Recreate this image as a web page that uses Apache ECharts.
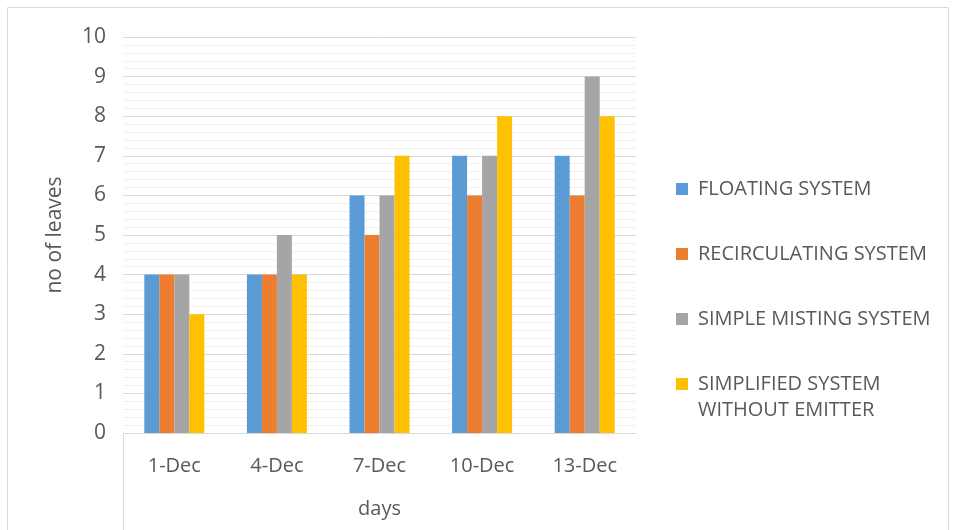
<!DOCTYPE html>
<html>
<head>
<meta charset="utf-8">
<script src="https://cdn.jsdelivr.net/npm/echarts@6/dist/echarts.min.js"></script>
<style>
  html, body { margin: 0; padding: 0; background: #fff; }
  #chart { width: 955px; height: 530px; }
</style>
</head>
<body>
<div id="chart"></div>
<script>
// Leaf counts per growing system on each observation day
const days = ['1-Dec', '4-Dec', '7-Dec', '10-Dec', '13-Dec'];
const floating = [4, 4, 6, 7, 7];
const recirculating = [4, 4, 5, 6, 6];
const simpleMisting = [4, 5, 6, 7, 9];
const simplifiedNoEmitter = [3, 4, 7, 8, 8];
const seriesNames = ['FLOATING SYSTEM', 'RECIRCULATING SYSTEM', 'SIMPLE MISTING SYSTEM', 'SIMPLIFIED SYSTEM\nWITHOUT EMITTER'];
const palette = ['#5B9BD5', '#ED7D31', '#A5A5A5', '#FFC000'];

const FONT = '"Open Sans", "Noto Sans", sans-serif';
const TEXT = '#595959';

// Legend swatch: 12px square plus an invisible speck that widens the icon box,
// giving a wider gap between swatch and label (and for the two-line entry,
// a taller box so the swatch sits beside the first line).
const swatchSingle = 'path://M0,0h12v12h-12z M16.99,11.99h0.01v0.01h-0.01z';
const swatchDouble = 'path://M0,0h12v12h-12z M16.99,37.99h0.01v0.01h-0.01z';

const chart = echarts.init(document.getElementById('chart'), null, { renderer: 'canvas' });

const seriesData = [floating, recirculating, simpleMisting, simplifiedNoEmitter];

chart.setOption({
  animation: false,
  backgroundColor: '#fff',
  textStyle: { fontFamily: FONT, color: TEXT },
  grid: { left: 123, right: 319, top: 37, bottom: 97, containLabel: false },
  legend: [
    {
      orient: 'vertical',
      left: 671, top: 171,
      itemWidth: 17, itemHeight: 12, itemGap: 39,
      icon: swatchSingle,
      data: seriesNames.slice(0, 3),
      textStyle: { fontFamily: FONT, fontSize: 20, color: TEXT, lineHeight: 26 },
      selectedMode: false
    },
    {
      orient: 'vertical',
      left: 671, top: 366,
      itemWidth: 17, itemHeight: 38,
      icon: swatchDouble,
      data: seriesNames.slice(3),
      textStyle: { fontFamily: FONT, fontSize: 20, color: TEXT, lineHeight: 26 },
      selectedMode: false
    }
  ],
  xAxis: {
    type: 'category',
    data: days,
    name: 'days',
    nameLocation: 'middle',
    nameGap: 66,
    nameTextStyle: { fontFamily: FONT, fontSize: 20, color: TEXT },
    axisLine: { show: true, lineStyle: { color: '#d9d9d9', width: 1 } },
    axisTick: { show: false },
    axisLabel: { fontFamily: FONT, fontSize: 20, color: TEXT, margin: 23 },
    splitLine: { show: false }
  },
  yAxis: {
    type: 'value',
    min: 0, max: 10, interval: 1,
    name: 'no of leaves',
    nameLocation: 'middle',
    nameRotate: 90,
    nameGap: 57,
    nameTextStyle: { fontFamily: FONT, fontSize: 21, color: TEXT },
    axisLine: { show: false },
    axisTick: { show: false },
    axisLabel: { fontFamily: FONT, fontSize: 21, color: TEXT, margin: 17 },
    splitLine: { show: true, lineStyle: { color: '#d9d9d9', width: 1 } },
    minorTick: { show: false, splitNumber: 5 },
    minorSplitLine: { show: true, lineStyle: { color: '#f0f0f0', width: 1 } }
  },
  series: seriesData.map((vals, i) => ({
    name: seriesNames[i],
    type: 'bar',
    data: vals,
    barWidth: 15,
    barGap: '0%',
    itemStyle: { color: palette[i] },
    z: 3
  })),
  graphic: [
    {
      type: 'rect',
      shape: { x: 7.5, y: 7.5, width: 941, height: 540 },
      style: { fill: 'none', stroke: '#d9d9d9', lineWidth: 1 },
      silent: true, z: -1
    },
    {
      type: 'line',
      shape: { x1: 123.5, y1: 433, x2: 123.5, y2: 530 },
      style: { stroke: '#d9d9d9', lineWidth: 1 },
      silent: true
    }
  ]
});
</script>
</body>
</html>
